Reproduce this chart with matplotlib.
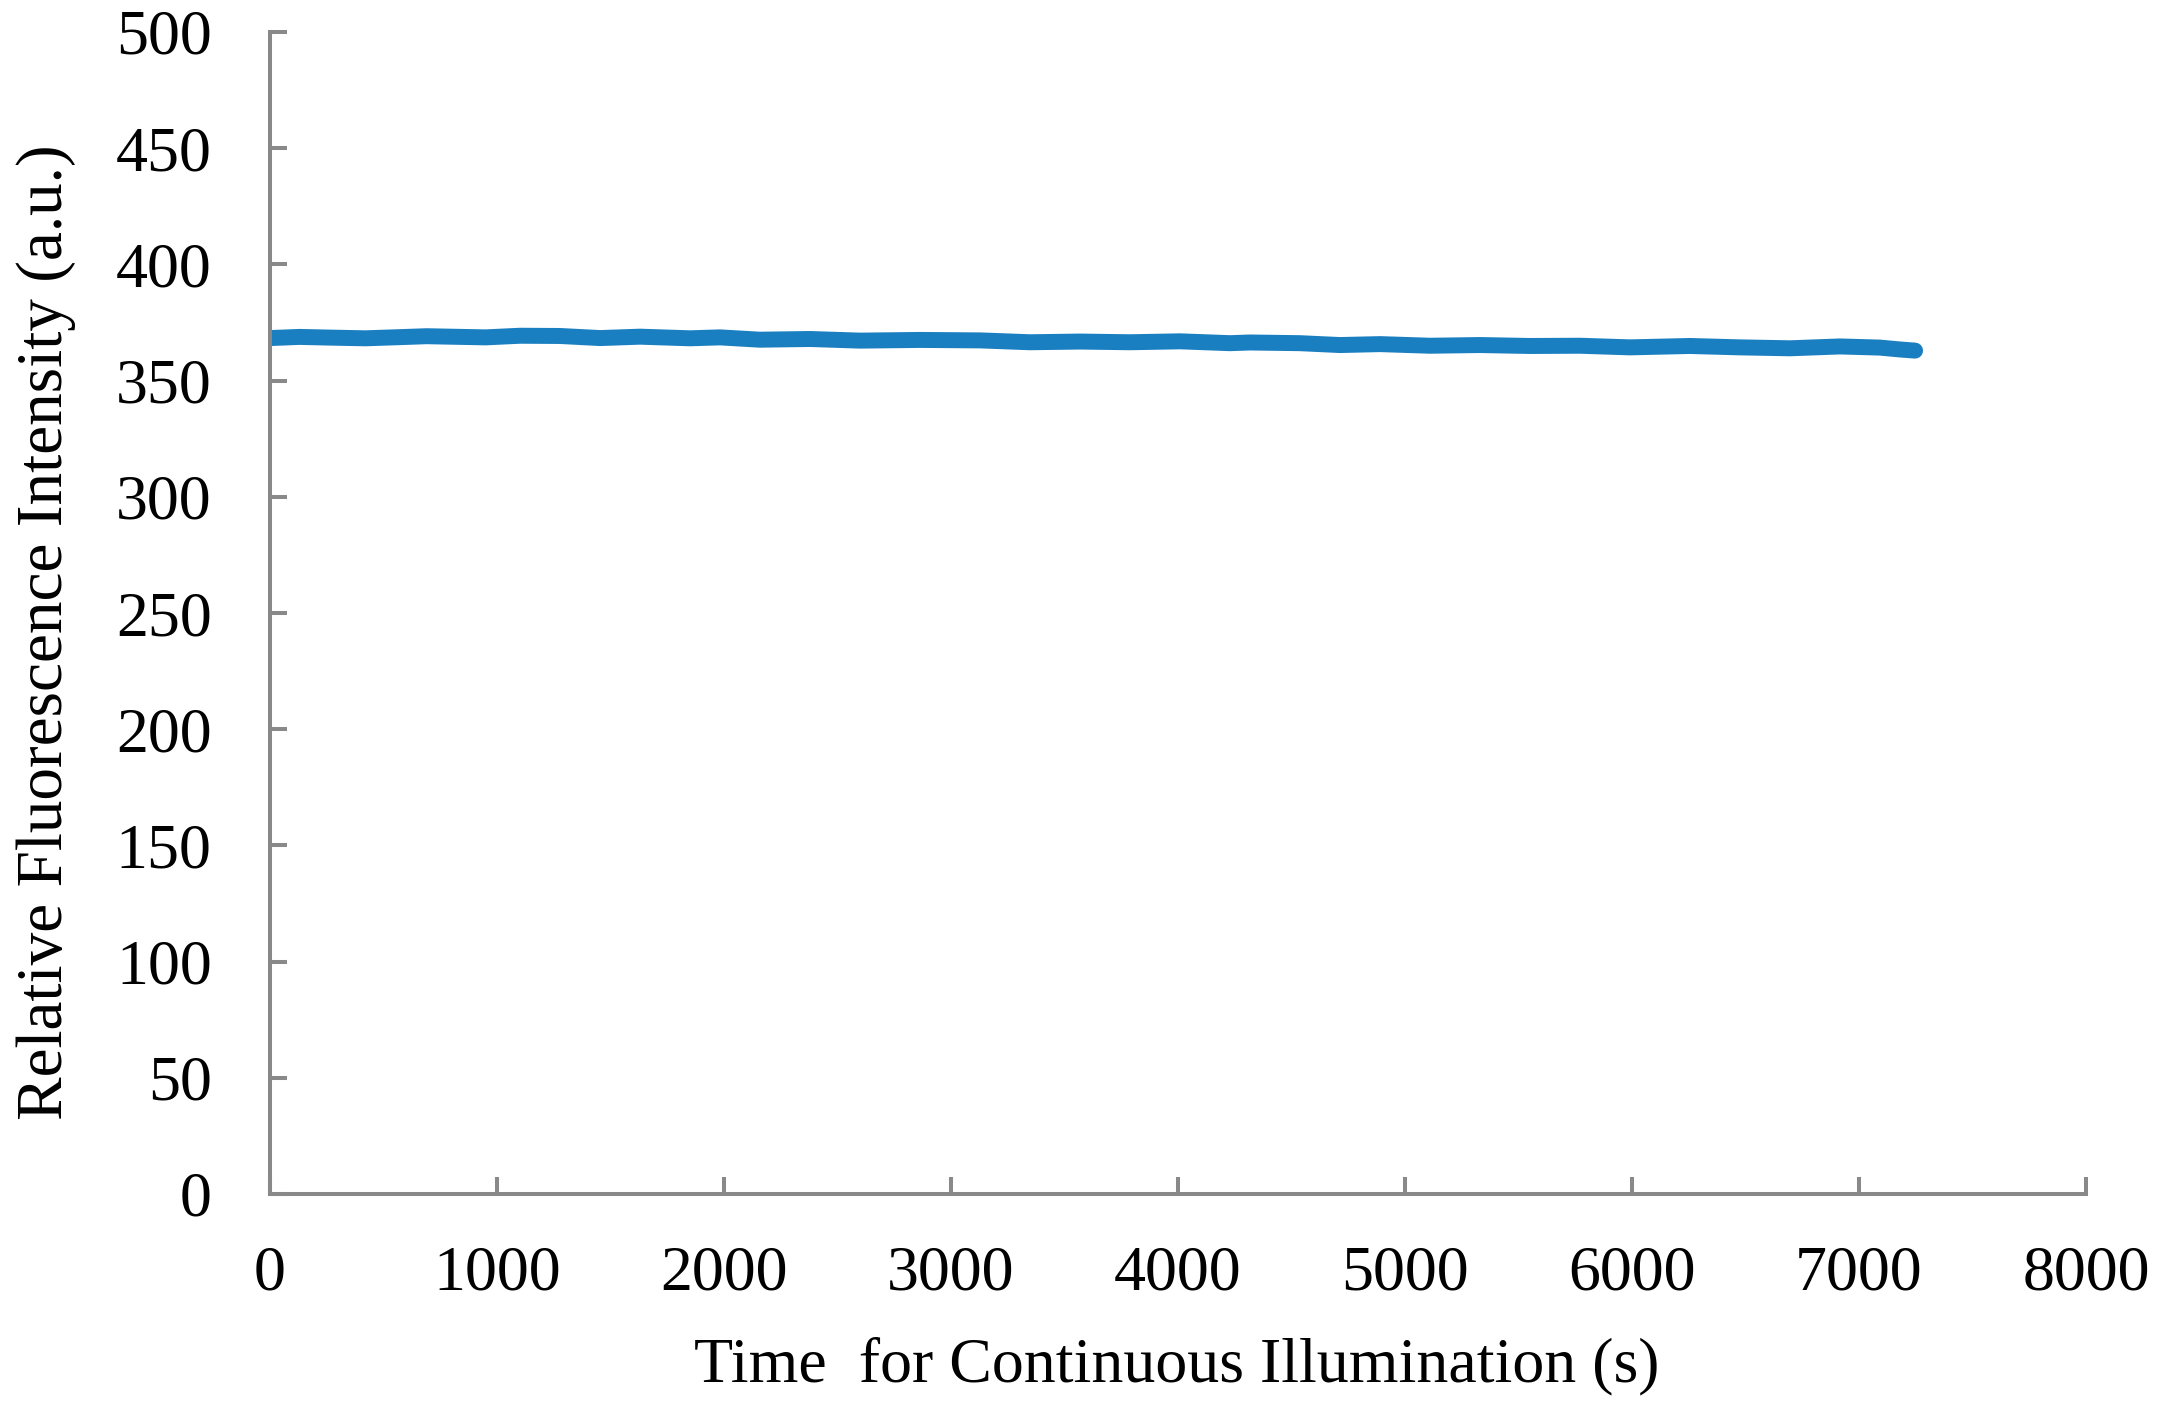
import matplotlib
matplotlib.use("Agg")
import matplotlib.pyplot as plt

# Data
time_s = [0, 130, 264, 420, 573, 690, 793, 950, 1101, 1277, 1454, 1630, 1850, 1982,
          2158, 2379, 2599, 2863, 3128, 3348, 3568, 3788, 4009, 4229, 4317, 4537,
          4713, 4890, 5110, 5330, 5550, 5771, 5991, 6255, 6475, 6696, 6916, 7092,
          7180, 7247]
intensity = [368.3, 368.8, 368.5, 368.2, 368.7, 369.1, 368.9, 368.6, 369.3, 369.2,
             368.3, 368.9, 368.2, 368.6, 367.6, 367.9, 367.2, 367.5, 367.3, 366.5,
             366.8, 366.5, 366.9, 366.1, 366.4, 366.1, 365.3, 365.7, 365.0, 365.3,
             364.9, 365.0, 364.3, 364.9, 364.3, 363.9, 364.7, 364.2, 363.4, 362.9]

x_ticks = [0, 1000, 2000, 3000, 4000, 5000, 6000, 7000, 8000]
y_ticks = [0, 50, 100, 150, 200, 250, 300, 350, 400, 450, 500]

plt.rcParams['font.family'] = ['Liberation Serif', 'DejaVu Serif']

fig = plt.figure(figsize=(21.72, 14.27), dpi=100)
ax = fig.add_axes([270/2172, 1-1194/1427, 1816/2172, 1162/1427])

ax.plot(time_s, intensity, color='#1a7fc0', lw=11.5, solid_capstyle='round',
        solid_joinstyle='round')

ax.set_xlim(0, 8000)
ax.set_ylim(0, 500)
ax.set_xticks(x_ticks)
ax.set_yticks(y_ticks)

spine_col = '#898989'
for s in ['top', 'right']:
    ax.spines[s].set_visible(False)
for s in ['left', 'bottom']:
    ax.spines[s].set_color(spine_col)
    ax.spines[s].set_linewidth(2.9)

ax.tick_params(axis='x', direction='in', length=12.5, width=2.9, color=spine_col,
               labelsize=46, pad=37, labelcolor='black')
ax.tick_params(axis='y', direction='in', length=12.5, width=2.9, color=spine_col,
               labelsize=46, pad=42, labelcolor='black')

fig.text(46/2172, 1-632/1427, 'Relative Fluorescence Intensity (a.u.)', rotation=90,
         ha='center', va='center', fontsize=47)
fig.text(1177/2172, 1-1366/1427, 'Time  for Continuous Illumination (s)',
         ha='center', va='center', fontsize=46)

fig.savefig('out.png', dpi=100)
